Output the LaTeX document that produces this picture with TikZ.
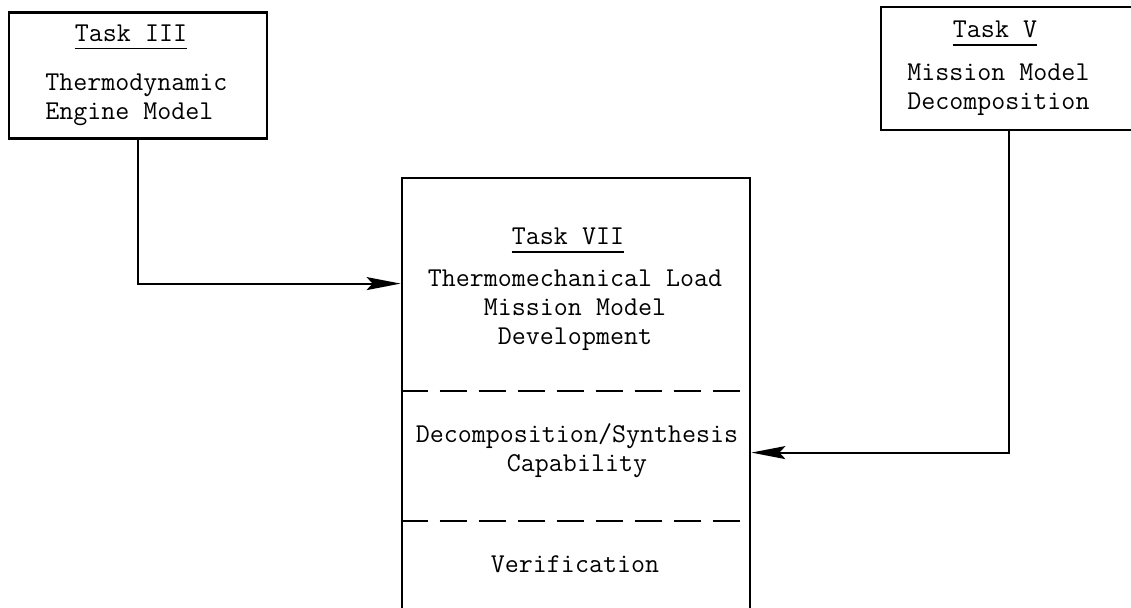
\documentclass[tikz,border=0pt]{standalone}
\usetikzlibrary{arrows.meta,positioning}
\tikzset{
  taskbox/.style={draw, line width=1.4pt, inner sep=0pt},
  tasktext/.style={font=\ttfamily\fontsize{13.6}{14.5}\selectfont, inner sep=0pt},
  titleline/.style={line width=0.9pt},
  sepline/.style={line width=1pt, dash pattern=on 13.5pt off 6pt},
  feed/.style={line width=1pt, -{Stealth[length=17pt,width=6.5pt,inset=3pt]}},
}

\begin{document}
\begin{tikzpicture}[x=0.5pt,y=-0.5pt]
\useasboundingbox (0,0) rectangle (1131,608);
\clip (0,0) rectangle (1131,608);
%%%%% Boxes %%%%%
\node[taskbox, minimum width=129pt, minimum height=63pt] (task3) at (138,75.5) {};
\node[taskbox, minimum width=128pt, minimum height=61.5pt] (task5) at (1009,68.5) {};
\node[taskbox, minimum width=174pt, minimum height=231pt] (task7) at (576,409) {};
%%%%% Separators %%%%%
\coordinate (sep1w) at ([yshift=-107pt]task7.north west);
\coordinate (sep1e) at ([yshift=-107pt]task7.north east);
\coordinate (sep2w) at ([yshift=-172pt]task7.north west);
\coordinate (sep2e) at ([yshift=-172pt]task7.north east);
\draw[sepline] (sep1w) -- (sep1e);
\draw[sepline] (sep2w) -- (sep2e);
%%%%% Texts %%%%%
\node[tasktext, anchor=base] (task3title) at (131,42) {Task III};
\node[tasktext, anchor=base west, align=left] (task3name) at (45,120) {Thermodynamic\\Engine Model};
\node[tasktext, anchor=base] (task5title) at (995,38) {Task V};
\node[tasktext, anchor=base west, align=left] (task5name) at (907,110) {Mission Model\\Decomposition};
\node[tasktext, anchor=base] (task7title) at (568,245) {Task VII};
\node[tasktext, anchor=base, align=center] (task7name) at (575,345) {Thermomechanical Load\\Mission Model\\Development};
\node[tasktext, anchor=base, align=center] (synth) at (577,472) {Decomposition/Synthesis\\Capability};
\node[tasktext, anchor=base] (verif) at (575,573) {Verification};
%%%%% Title underlines %%%%%
\foreach \t in {task3title,task5title,task7title}{
  \draw[titleline] ([yshift=-3pt]\t.south west) -- ([yshift=-3pt]\t.south east);
}
%%%%% Connectors %%%%%
\coordinate (in3) at ([yshift=-53.5pt]task7.north west);
\coordinate (in5) at ([yshift=-138pt]task7.north east);
\draw[feed] (task3.south) |- (in3);
\draw[feed] (task5.south) |- (in5);
\end{tikzpicture}
\end{document}
